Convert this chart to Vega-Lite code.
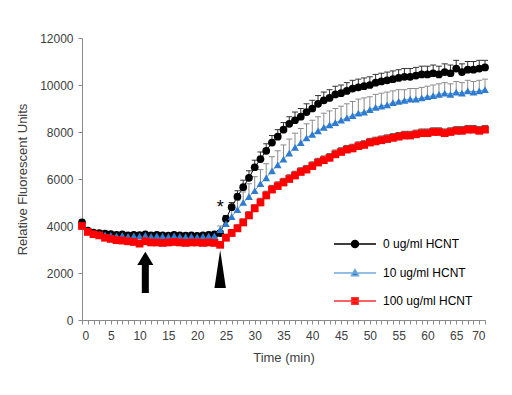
{
"$schema":"https://vega.github.io/schema/vega-lite/v6.json",
"width":403,"height":282,
"autosize":{"type":"none"},
"padding":{"left":82,"top":38,"right":27,"bottom":75},
"background":"white",
"config":{"view":{"stroke":null},"font":"Liberation Sans",
"axis":{"grid":false,"domainColor":"#898989","tickColor":"#898989","labelColor":"#404040","titleColor":"#404040","labelFont":"Liberation Sans","titleFont":"Liberation Sans","labelFontSize":12,"titleFontSize":13,"titleFontWeight":"normal","tickSize":4}},
"datasets":{"main":[
{"s":"0","t":0,"v":4150,"hi":4250},{"s":"0","t":1,"v":3800,"hi":3880},{"s":"0","t":2,"v":3720,"hi":3800},{"s":"0","t":3,"v":3700,"hi":3780},{"s":"0","t":4,"v":3680,"hi":3760},{"s":"0","t":5,"v":3650,"hi":3730},{"s":"0","t":6,"v":3620,"hi":3700},{"s":"0","t":7,"v":3640,"hi":3720},{"s":"0","t":8,"v":3600,"hi":3680},{"s":"0","t":9,"v":3620,"hi":3700},{"s":"0","t":10,"v":3610,"hi":3690},{"s":"0","t":11,"v":3640,"hi":3720},{"s":"0","t":12,"v":3600,"hi":3680},{"s":"0","t":13,"v":3620,"hi":3700},{"s":"0","t":14,"v":3600,"hi":3680},{"s":"0","t":15,"v":3590,"hi":3670},{"s":"0","t":16,"v":3620,"hi":3700},{"s":"0","t":17,"v":3600,"hi":3680},{"s":"0","t":18,"v":3590,"hi":3670},{"s":"0","t":19,"v":3600,"hi":3680},{"s":"0","t":20,"v":3580,"hi":3660},{"s":"0","t":21,"v":3600,"hi":3680},{"s":"0","t":22,"v":3620,"hi":3700},{"s":"0","t":23,"v":3640,"hi":3720},{"s":"0","t":24,"v":3700,"hi":3800},{"s":"0","t":25,"v":4300,"hi":4450},{"s":"0","t":26,"v":4800,"hi":5000},{"s":"0","t":27,"v":5250,"hi":5500},{"s":"0","t":28,"v":5650,"hi":5950},{"s":"0","t":29,"v":6050,"hi":6350},{"s":"0","t":30,"v":6500,"hi":6800},{"s":"0","t":31,"v":6850,"hi":7150},{"s":"0","t":32,"v":7200,"hi":7500},{"s":"0","t":33,"v":7550,"hi":7850},{"s":"0","t":34,"v":7800,"hi":8100},{"s":"0","t":35,"v":8100,"hi":8400},{"s":"0","t":36,"v":8350,"hi":8650},{"s":"0","t":37,"v":8500,"hi":8850},{"s":"0","t":38,"v":8650,"hi":9000},{"s":"0","t":39,"v":8850,"hi":9200},{"s":"0","t":40,"v":9000,"hi":9350},{"s":"0","t":41,"v":9200,"hi":9550},{"s":"0","t":42,"v":9350,"hi":9700},{"s":"0","t":43,"v":9450,"hi":9800},{"s":"0","t":44,"v":9600,"hi":9950},{"s":"0","t":45,"v":9650,"hi":10000},{"s":"0","t":46,"v":9750,"hi":10100},{"s":"0","t":47,"v":9850,"hi":10200},{"s":"0","t":48,"v":9900,"hi":10250},{"s":"0","t":49,"v":9950,"hi":10300},{"s":"0","t":50,"v":10000,"hi":10350},{"s":"0","t":51,"v":10100,"hi":10450},{"s":"0","t":52,"v":10150,"hi":10500},{"s":"0","t":53,"v":10200,"hi":10550},{"s":"0","t":54,"v":10250,"hi":10600},{"s":"0","t":55,"v":10300,"hi":10650},{"s":"0","t":56,"v":10350,"hi":10700},{"s":"0","t":57,"v":10350,"hi":10700},{"s":"0","t":58,"v":10400,"hi":10750},{"s":"0","t":59,"v":10450,"hi":10800},{"s":"0","t":60,"v":10450,"hi":10800},{"s":"0","t":61,"v":10500,"hi":10850},{"s":"0","t":62,"v":10450,"hi":10800},{"s":"0","t":63,"v":10550,"hi":10900},{"s":"0","t":64,"v":10500,"hi":10850},{"s":"0","t":65,"v":10700,"hi":11050},{"s":"0","t":66,"v":10550,"hi":10900},{"s":"0","t":67,"v":10650,"hi":11000},{"s":"0","t":68,"v":10650,"hi":11000},{"s":"0","t":69,"v":10700,"hi":11050},{"s":"0","t":70,"v":10750,"hi":11050},
{"s":"10","t":0,"v":4050,"hi":4110},{"s":"10","t":1,"v":3750,"hi":3810},{"s":"10","t":2,"v":3680,"hi":3740},{"s":"10","t":3,"v":3650,"hi":3710},{"s":"10","t":4,"v":3620,"hi":3680},{"s":"10","t":5,"v":3600,"hi":3660},{"s":"10","t":6,"v":3580,"hi":3640},{"s":"10","t":7,"v":3600,"hi":3660},{"s":"10","t":8,"v":3560,"hi":3620},{"s":"10","t":9,"v":3580,"hi":3640},{"s":"10","t":10,"v":3570,"hi":3630},{"s":"10","t":11,"v":3600,"hi":3660},{"s":"10","t":12,"v":3560,"hi":3620},{"s":"10","t":13,"v":3580,"hi":3640},{"s":"10","t":14,"v":3570,"hi":3630},{"s":"10","t":15,"v":3550,"hi":3610},{"s":"10","t":16,"v":3580,"hi":3640},{"s":"10","t":17,"v":3560,"hi":3620},{"s":"10","t":18,"v":3550,"hi":3610},{"s":"10","t":19,"v":3560,"hi":3620},{"s":"10","t":20,"v":3540,"hi":3600},{"s":"10","t":21,"v":3560,"hi":3620},{"s":"10","t":22,"v":3570,"hi":3630},{"s":"10","t":23,"v":3580,"hi":3640},{"s":"10","t":24,"v":3850,"hi":4000},{"s":"10","t":25,"v":4100,"hi":4400},{"s":"10","t":26,"v":4400,"hi":4750},{"s":"10","t":27,"v":4700,"hi":5100},{"s":"10","t":28,"v":5000,"hi":5450},{"s":"10","t":29,"v":5250,"hi":5800},{"s":"10","t":30,"v":5500,"hi":6100},{"s":"10","t":31,"v":5800,"hi":6400},{"s":"10","t":32,"v":6050,"hi":6650},{"s":"10","t":33,"v":6350,"hi":6950},{"s":"10","t":34,"v":6600,"hi":7200},{"s":"10","t":35,"v":6850,"hi":7450},{"s":"10","t":36,"v":7100,"hi":7700},{"s":"10","t":37,"v":7350,"hi":7950},{"s":"10","t":38,"v":7550,"hi":8150},{"s":"10","t":39,"v":7750,"hi":8350},{"s":"10","t":40,"v":7900,"hi":8500},{"s":"10","t":41,"v":8050,"hi":8650},{"s":"10","t":42,"v":8200,"hi":8800},{"s":"10","t":43,"v":8300,"hi":8900},{"s":"10","t":44,"v":8400,"hi":9000},{"s":"10","t":45,"v":8500,"hi":9100},{"s":"10","t":46,"v":8600,"hi":9200},{"s":"10","t":47,"v":8700,"hi":9300},{"s":"10","t":48,"v":8800,"hi":9400},{"s":"10","t":49,"v":8850,"hi":9450},{"s":"10","t":50,"v":8950,"hi":9500},{"s":"10","t":51,"v":9050,"hi":9600},{"s":"10","t":52,"v":9100,"hi":9650},{"s":"10","t":53,"v":9150,"hi":9700},{"s":"10","t":54,"v":9250,"hi":9750},{"s":"10","t":55,"v":9300,"hi":9800},{"s":"10","t":56,"v":9350,"hi":9800},{"s":"10","t":57,"v":9400,"hi":9850},{"s":"10","t":58,"v":9400,"hi":9850},{"s":"10","t":59,"v":9450,"hi":9900},{"s":"10","t":60,"v":9500,"hi":9950},{"s":"10","t":61,"v":9550,"hi":10000},{"s":"10","t":62,"v":9600,"hi":10050},{"s":"10","t":63,"v":9650,"hi":10100},{"s":"10","t":64,"v":9600,"hi":10050},{"s":"10","t":65,"v":9700,"hi":10150},{"s":"10","t":66,"v":9650,"hi":10100},{"s":"10","t":67,"v":9750,"hi":10200},{"s":"10","t":68,"v":9700,"hi":10150},{"s":"10","t":69,"v":9750,"hi":10200},{"s":"10","t":70,"v":9800,"hi":10250},
{"s":"100","t":0,"v":4000,"hi":4080},{"s":"100","t":1,"v":3750,"hi":3830},{"s":"100","t":2,"v":3650,"hi":3730},{"s":"100","t":3,"v":3600,"hi":3680},{"s":"100","t":4,"v":3500,"hi":3580},{"s":"100","t":5,"v":3450,"hi":3530},{"s":"100","t":6,"v":3400,"hi":3480},{"s":"100","t":7,"v":3380,"hi":3460},{"s":"100","t":8,"v":3350,"hi":3430},{"s":"100","t":9,"v":3320,"hi":3400},{"s":"100","t":10,"v":3250,"hi":3330},{"s":"100","t":11,"v":3350,"hi":3430},{"s":"100","t":12,"v":3300,"hi":3380},{"s":"100","t":13,"v":3300,"hi":3380},{"s":"100","t":14,"v":3280,"hi":3360},{"s":"100","t":15,"v":3300,"hi":3380},{"s":"100","t":16,"v":3320,"hi":3400},{"s":"100","t":17,"v":3300,"hi":3380},{"s":"100","t":18,"v":3280,"hi":3360},{"s":"100","t":19,"v":3300,"hi":3380},{"s":"100","t":20,"v":3300,"hi":3380},{"s":"100","t":21,"v":3280,"hi":3360},{"s":"100","t":22,"v":3300,"hi":3380},{"s":"100","t":23,"v":3280,"hi":3360},{"s":"100","t":24,"v":3200,"hi":3280},{"s":"100","t":25,"v":3500,"hi":3650},{"s":"100","t":26,"v":3700,"hi":3850},{"s":"100","t":27,"v":3900,"hi":4050},{"s":"100","t":28,"v":4150,"hi":4300},{"s":"100","t":29,"v":4450,"hi":4600},{"s":"100","t":30,"v":4750,"hi":4900},{"s":"100","t":31,"v":5000,"hi":5180},{"s":"100","t":32,"v":5300,"hi":5480},{"s":"100","t":33,"v":5550,"hi":5730},{"s":"100","t":34,"v":5700,"hi":5880},{"s":"100","t":35,"v":5850,"hi":6030},{"s":"100","t":36,"v":6000,"hi":6180},{"s":"100","t":37,"v":6150,"hi":6330},{"s":"100","t":38,"v":6300,"hi":6480},{"s":"100","t":39,"v":6400,"hi":6580},{"s":"100","t":40,"v":6550,"hi":6730},{"s":"100","t":41,"v":6700,"hi":6880},{"s":"100","t":42,"v":6800,"hi":6980},{"s":"100","t":43,"v":6900,"hi":7080},{"s":"100","t":44,"v":7050,"hi":7230},{"s":"100","t":45,"v":7150,"hi":7330},{"s":"100","t":46,"v":7250,"hi":7430},{"s":"100","t":47,"v":7300,"hi":7480},{"s":"100","t":48,"v":7400,"hi":7580},{"s":"100","t":49,"v":7450,"hi":7630},{"s":"100","t":50,"v":7550,"hi":7730},{"s":"100","t":51,"v":7600,"hi":7780},{"s":"100","t":52,"v":7650,"hi":7830},{"s":"100","t":53,"v":7700,"hi":7880},{"s":"100","t":54,"v":7750,"hi":7930},{"s":"100","t":55,"v":7800,"hi":7980},{"s":"100","t":56,"v":7850,"hi":8030},{"s":"100","t":57,"v":7850,"hi":8030},{"s":"100","t":58,"v":7900,"hi":8080},{"s":"100","t":59,"v":7950,"hi":8130},{"s":"100","t":60,"v":7950,"hi":8130},{"s":"100","t":61,"v":8000,"hi":8180},{"s":"100","t":62,"v":8000,"hi":8180},{"s":"100","t":63,"v":7950,"hi":8130},{"s":"100","t":64,"v":8000,"hi":8180},{"s":"100","t":65,"v":8050,"hi":8230},{"s":"100","t":66,"v":8050,"hi":8230},{"s":"100","t":67,"v":8100,"hi":8280},{"s":"100","t":68,"v":8100,"hi":8280},{"s":"100","t":69,"v":8050,"hi":8230},{"s":"100","t":70,"v":8100,"hi":8280}
]},
"data":{"name":"main"},
"encoding":{
"x":{"field":"t","type":"quantitative","title":"Time (min)","scale":{"domain":[0,70],"nice":false},"axis":{"values":[0,1,2,3,4,5,6,7,8,9,10,11,12,13,14,15,16,17,18,19,20,21,22,23,24,25,26,27,28,29,30,31,32,33,34,35,36,37,38,39,40,41,42,43,44,45,46,47,48,49,50,51,52,53,54,55,56,57,58,59,60,61,62,63,64,65,66,67,68,69,70],"labelExpr":"datum.value % 5 === 0 ? datum.label : ''","labelOverlap":false,"labelPadding":6,"titlePadding":10}},
"y":{"field":"v","type":"quantitative","title":"Relative Fluorescent Units","scale":{"domain":[0,12000],"nice":false},"axis":{"values":[0,2000,4000,6000,8000,10000,12000],"format":"d","labelPadding":5,"titlePadding":10}}
},
"layer":[
{"mark":{"type":"line","strokeWidth":1},"encoding":{"color":{"field":"s","type":"nominal","scale":{"domain":["0","10","100"],"range":["#000000","#5B9BD5","#FF0000"]},"legend":null}}},
{"mark":{"type":"rule","strokeWidth":1},"encoding":{"y2":{"field":"hi"},"color":{"field":"s","type":"nominal","scale":{"domain":["0","10","100"],"range":["#333333","#8C8C8C","#595959"]},"legend":null}}},
{"mark":{"type":"tick","orient":"horizontal","size":6,"thickness":1,"opacity":1},"encoding":{"y":{"field":"hi","type":"quantitative","title":"Relative Fluorescent Units"},"color":{"field":"s","type":"nominal","scale":{"domain":["0","10","100"],"range":["#333333","#8C8C8C","#595959"]},"legend":null}}},
{"mark":{"type":"point","filled":true,"opacity":1,"size":60},"encoding":{"color":{"field":"s","type":"nominal","scale":{"domain":["0","10","100"],"range":["#000000","#2E7BCF","#FF0000"]},"legend":null},"shape":{"field":"s","type":"nominal","scale":{"domain":["0","10","100"],"range":["circle","triangle-up","square"]},"legend":null}}},
{"transform":[{"filter":"false"}],"mark":{"type":"point","filled":true,"opacity":1,"size":49},"encoding":{
"fill":{"field":"s","type":"nominal","scale":{"domain":["0","10","100"],"range":["#000000","#2E7BCF","#FF0000"]},"legend":{"title":null,"orient":"none","legendX":267,"legendY":200,"labelExpr":"datum.label + ' ug/ml HCNT'","labelFontSize":12,"labelColor":"#000000","labelFont":"Liberation Sans","symbolSize":49,"symbolStrokeWidth":1.5,"labelOffset":22,"rowPadding":15,"padding":0}},
"stroke":{"field":"s","type":"nominal","scale":{"domain":["0","10","100"],"range":["#000000","#6FA8DC","#FF3030"]},"legend":{"title":null,"orient":"none","legendX":267,"legendY":200,"labelExpr":"datum.label + ' ug/ml HCNT'","labelFontSize":12,"labelColor":"#000000","labelFont":"Liberation Sans","symbolSize":49,"symbolStrokeWidth":1.5,"labelOffset":22,"rowPadding":15,"padding":0}},
"shape":{"field":"s","type":"nominal","scale":{"domain":["0","10","100"],"range":["M-6,0H6M-1,0A1,1 0 1,0 1,0A1,1 0 1,0 -1,0Z","M-6,0H6M0,-1L1,0.8L-1,0.8Z","M-6,0H6M-0.9,-0.9H0.9V0.9H-0.9Z"]},"legend":{"title":null,"orient":"none","legendX":267,"legendY":200,"labelExpr":"datum.label + ' ug/ml HCNT'","labelFontSize":12,"labelColor":"#000000","labelFont":"Liberation Sans","symbolSize":49,"symbolStrokeWidth":1.5,"labelOffset":22,"rowPadding":15,"padding":0}}}},
{"data":{"values":[{"t":11,"v":2030}]},"mark":{"type":"point","shape":"M0,-1L0.39,-0.35L0.17,-0.35L0.17,1L-0.17,1L-0.17,-0.35L-0.39,-0.35Z","size":1706,"filled":true,"color":"#000000","opacity":1}},
{"data":{"values":[{"t":24,"v":2170}]},"mark":{"type":"point","shape":"M0,-1L0.3,1L-0.3,1Z","size":1444,"filled":true,"color":"#000000","opacity":1}},
{"data":{"values":[{"t":24,"v":4965,"label":"*"}]},"mark":{"type":"text","fontSize":18,"baseline":"alphabetic","dy":10,"color":"#000000","font":"Liberation Sans"},"encoding":{"text":{"field":"label"}}}
],
"resolve":{"scale":{"color":"independent","shape":"independent","fill":"independent","stroke":"independent"}}
}
